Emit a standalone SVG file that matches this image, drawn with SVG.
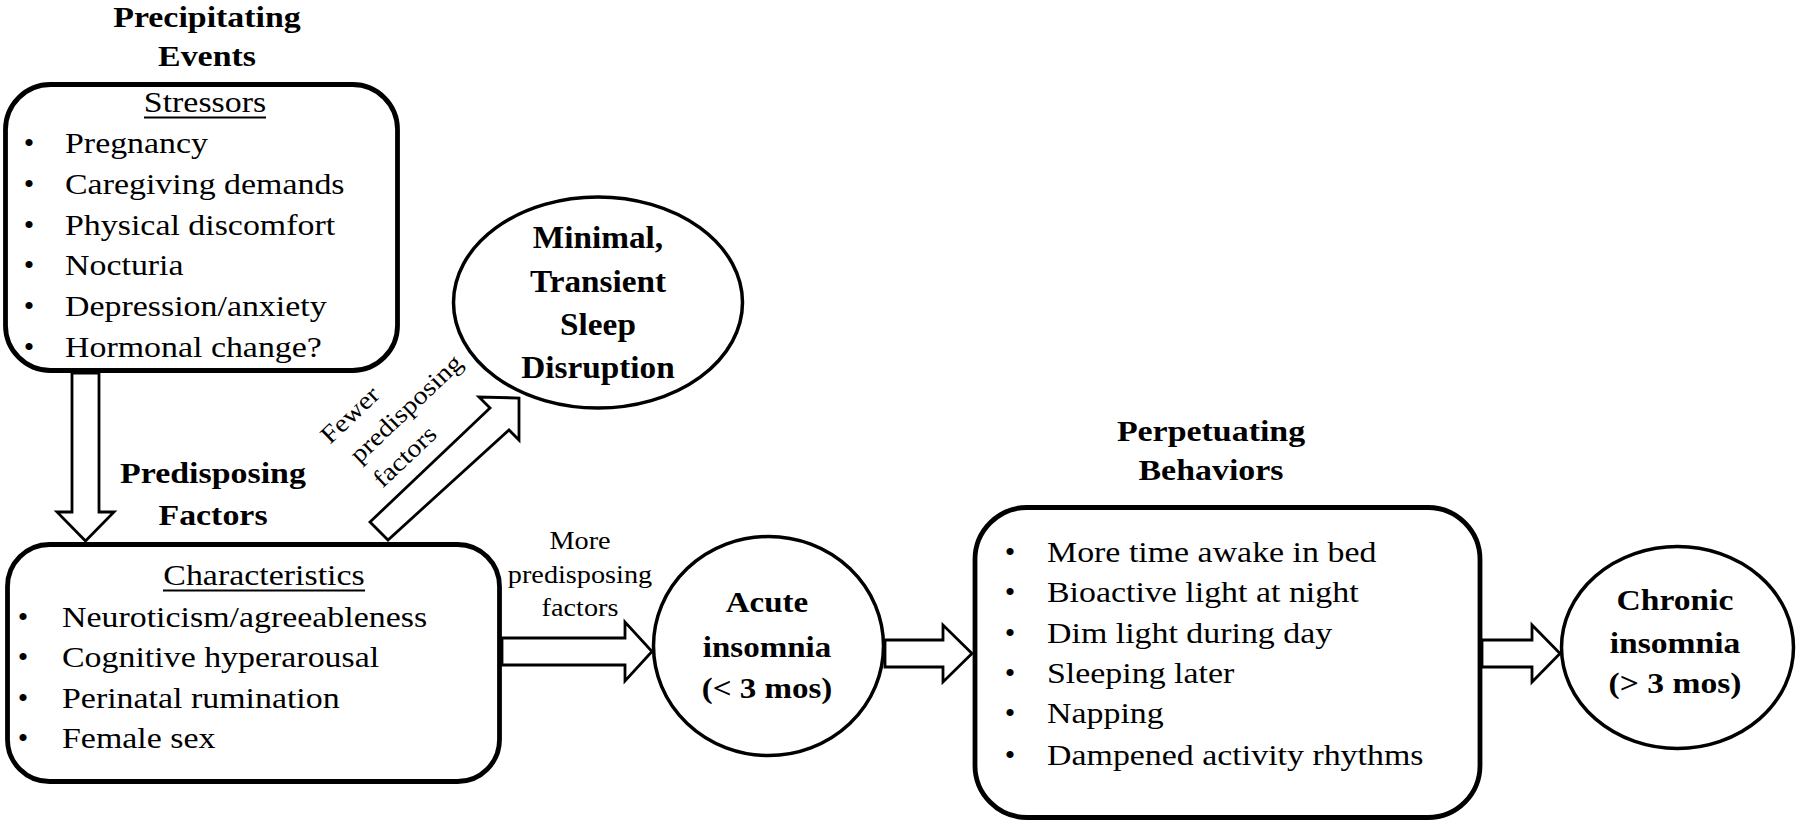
<svg xmlns="http://www.w3.org/2000/svg" width="1800" height="828" viewBox="0 0 1800 828">
<style>
  text { font-family: "Liberation Serif", "Times New Roman", serif; font-size: 30px; fill: #000; }
  .b { font-weight: bold; }
  .m { font-size: 32px; font-weight: bold; }
  .s { font-size: 25px; }
  .c { text-anchor: middle; }
  .box { fill: #fff; stroke: #000; stroke-width: 4.8; }
  .ell { fill: #fff; stroke: #000; stroke-width: 3.5; }
  .arr { fill: #fff; stroke: #000; stroke-width: 2.8; stroke-linejoin: miter; }
  .ul { stroke: #000; stroke-width: 1.8; }
</style>

<g id="connectors">
  <polygon class="arr" points="72,373 72,512 57,512 85.5,541 114,512 99,512 99,373"/>
  <polygon class="arr" points="370,522 490,408 479,397 519,398 519,440 509,430 388,540"/>
  <polygon class="arr" points="502,638 625,638 625,622 652,651.5 625,681 625,665 502,665"/>
  <polygon class="arr" points="885,640 943,640 943,625 972,653.5 943,682 943,667 885,667"/>
  <polygon class="arr" points="1482,640 1532,640 1532,625 1560,653.5 1532,682 1532,667 1482,667"/>
  <g id="label-fewer" transform="translate(330,445) rotate(-43.5)">
    <text class="s" transform="scale(1.13,1)">Fewer</text>
    <text class="s" transform="translate(8,34) scale(1.13,1)">predisposing</text>
    <text class="s" transform="translate(8,68) scale(1.13,1)">factors</text>
  </g>
  <g id="label-more">
    <text class="s c" transform="translate(580,549) scale(1.13,1)">More</text>
    <text class="s c" transform="translate(580,583) scale(1.13,1)">predisposing</text>
    <text class="s c" transform="translate(580,616) scale(1.13,1)">factors</text>
  </g>
</g>

<g id="precipitating">
  <text class="b c" transform="translate(207,27) scale(1.13,1)">Precipitating</text>
  <text class="b c" transform="translate(207,66) scale(1.13,1)">Events</text>
  <rect class="box" x="5.5" y="84.5" width="392" height="286" rx="45" ry="45"/>
  <text class="c" transform="translate(205,112) scale(1.13,1)">Stressors</text>
  <line class="ul" x1="144" y1="117.5" x2="266" y2="117.5"/>
  <text x="29" y="153" class="c">•</text>
  <text transform="translate(65,153) scale(1.13,1)">Pregnancy</text>
  <text x="29" y="194" class="c">•</text>
  <text transform="translate(65,194) scale(1.13,1)">Caregiving demands</text>
  <text x="29" y="235" class="c">•</text>
  <text transform="translate(65,235) scale(1.13,1)">Physical discomfort</text>
  <text x="29" y="275" class="c">•</text>
  <text transform="translate(65,275) scale(1.13,1)">Nocturia</text>
  <text x="29" y="316" class="c">•</text>
  <text transform="translate(65,316) scale(1.13,1)">Depression/anxiety</text>
  <text x="29" y="357" class="c">•</text>
  <text transform="translate(65,357) scale(1.13,1)">Hormonal change?</text>
</g>

<g id="minimal">
  <ellipse class="ell" cx="598" cy="302.5" rx="144.5" ry="105.5"/>
  <text class="m c" transform="translate(598,248) scale(1.04,1)">Minimal,</text>
  <text class="m c" transform="translate(598,292) scale(1.04,1)">Transient</text>
  <text class="m c" transform="translate(598,335) scale(1.04,1)">Sleep</text>
  <text class="m c" transform="translate(598,378) scale(1.04,1)">Disruption</text>
</g>

<g id="predisposing">
  <text class="b c" transform="translate(213,483) scale(1.13,1)">Predisposing</text>
  <text class="b c" transform="translate(213,525) scale(1.13,1)">Factors</text>
  <rect class="box" x="7.5" y="544.5" width="492" height="237" rx="42" ry="42"/>
  <text class="c" transform="translate(264,585) scale(1.13,1)">Characteristics</text>
  <line class="ul" x1="163" y1="590.5" x2="365" y2="590.5"/>
  <text x="23" y="627" class="c">•</text>
  <text transform="translate(62,627) scale(1.13,1)">Neuroticism/agreeableness</text>
  <text x="23" y="667" class="c">•</text>
  <text transform="translate(62,667) scale(1.13,1)">Cognitive hyperarousal</text>
  <text x="23" y="708" class="c">•</text>
  <text transform="translate(62,708) scale(1.13,1)">Perinatal rumination</text>
  <text x="23" y="748" class="c">•</text>
  <text transform="translate(62,748) scale(1.13,1)">Female sex</text>
</g>

<g id="acute">
  <ellipse class="ell" cx="768.5" cy="646" rx="115" ry="109.5"/>
  <text class="b c" transform="translate(767,612) scale(1.1,1)">Acute</text>
  <text class="b c" transform="translate(767,657) scale(1.1,1)">insomnia</text>
  <text class="b c" transform="translate(767,698) scale(1.1,1)">(&lt; 3 mos)</text>
</g>

<g id="perpetuating">
  <text class="b c" transform="translate(1211,441) scale(1.13,1)">Perpetuating</text>
  <text class="b c" transform="translate(1211,480) scale(1.13,1)">Behaviors</text>
  <rect class="box" x="975" y="507.5" width="505" height="310" rx="52" ry="52"/>
  <text x="1010" y="562" class="c">•</text>
  <text transform="translate(1047,562) scale(1.13,1)">More time awake in bed</text>
  <text x="1010" y="602" class="c">•</text>
  <text transform="translate(1047,602) scale(1.13,1)">Bioactive light at night</text>
  <text x="1010" y="643" class="c">•</text>
  <text transform="translate(1047,643) scale(1.13,1)">Dim light during day</text>
  <text x="1010" y="683" class="c">•</text>
  <text transform="translate(1047,683) scale(1.13,1)">Sleeping later</text>
  <text x="1010" y="723" class="c">•</text>
  <text transform="translate(1047,723) scale(1.13,1)">Napping</text>
  <text x="1010" y="765" class="c">•</text>
  <text transform="translate(1047,765) scale(1.13,1)">Dampened activity rhythms</text>
</g>

<g id="chronic">
  <ellipse class="ell" cx="1677.5" cy="647.5" rx="116" ry="101"/>
  <text class="b c" transform="translate(1675,610) scale(1.12,1)">Chronic</text>
  <text class="b c" transform="translate(1675,653) scale(1.12,1)">insomnia</text>
  <text class="b c" transform="translate(1675,693) scale(1.12,1)">(&gt; 3 mos)</text>
</g>
</svg>
